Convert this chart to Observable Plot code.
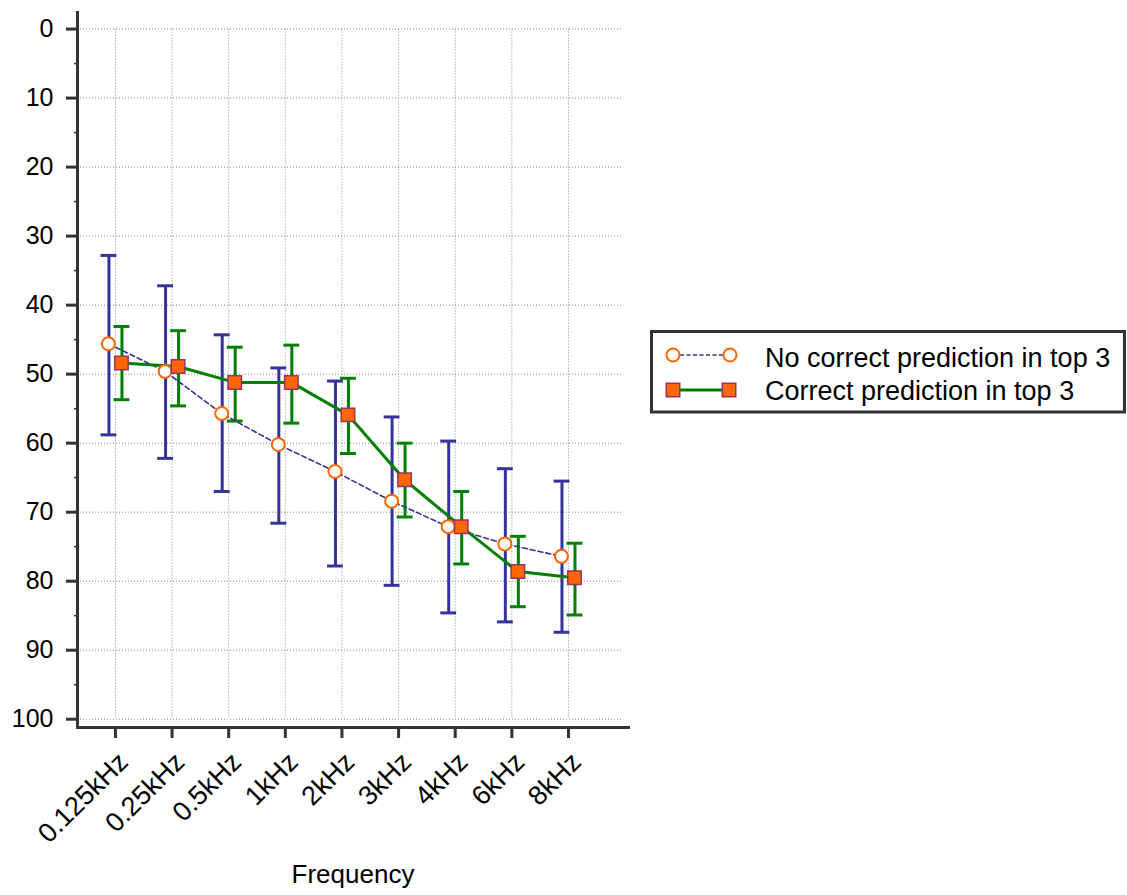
<!DOCTYPE html>
<html>
<head>
<meta charset="utf-8">
<script src="https://cdn.jsdelivr.net/npm/d3@7"></script>
<script src="https://cdn.jsdelivr.net/npm/@observablehq/plot@0.6"></script>
<style>
  html, body { margin: 0; padding: 0; background: #fff; }
  #wrap { position: relative; width: 1127px; height: 895px; font-family: "Liberation Sans", Arial, Helvetica, sans-serif; }
  #legend { position: absolute; left: 0; top: 0; }
</style>
</head>
<body>
<div id="wrap"></div>
<script>
// ---- data ----
const freqLabels = ["0.125kHz", "0.25kHz", "0.5kHz", "1kHz", "2kHz", "3kHz", "4kHz", "6kHz", "8kHz"];
// "No correct prediction in top 3"
const noMean = [45.6, 49.6, 55.7, 60.2, 64.1, 68.4, 72.1, 74.6, 76.4];
const noLow  = [32.8, 37.2, 44.3, 49.1, 51.0, 56.2, 59.7, 63.7, 65.5];
const noHigh = [58.8, 62.2, 67.0, 71.6, 77.8, 80.6, 84.6, 85.9, 87.4];
// "Correct prediction in top 3"
const yesMean = [48.4, 48.9, 51.2, 51.2, 55.9, 65.3, 72.1, 78.6, 79.5];
const yesLow  = [43.1, 43.7, 46.1, 45.8, 50.6, 60.0, 67.0, 73.5, 74.5];
const yesHigh = [53.7, 54.6, 56.8, 57.1, 61.5, 70.7, 77.5, 83.7, 84.9];
const yTicks = [0, 10, 20, 30, 40, 50, 60, 70, 80, 90, 100];
const yMinorTicks = [5, 15, 25, 35, 45, 55, 65, 75, 85, 95];
const seriesNames = ["No correct prediction in top 3", "Correct prediction in top 3"];
const xTitle = "Frequency";

const noData = freqLabels.map((f, i) => ({i, f, mean: noMean[i], lo: noLow[i], hi: noHigh[i]}));
const yesData = freqLabels.map((f, i) => ({i, f, mean: yesMean[i], lo: yesLow[i], hi: yesHigh[i]}));
const idx = freqLabels.map((f, i) => i);

const BLUE = "#333399", GREEN = "#008000", ORANGE = "#ff6600", PURPLE = "#993366", AXIS = "#333";
const FONT = "Liberation Sans, Arial, Helvetica, sans-serif";
const capHalf = 0.14;
const xDomain = [-0.67, 9.06];
const gridRight = 8.95;

const chart = Plot.plot({
  width: 1127,
  height: 895,
  marginLeft: 77,
  marginRight: 499,
  marginTop: 12,
  marginBottom: 168,
  style: {fontFamily: FONT, background: "white", color: "black"},
  x: {type: "linear", domain: xDomain},
  y: {domain: [-2.4, 101.2], reverse: true},
  marks: [
    // grid
    Plot.ruleY(yTicks, {y: d => d, x1: xDomain[0], x2: gridRight, stroke: "#888", strokeWidth: 1, strokeDasharray: "1,2"}),
    Plot.ruleX(idx, {x: d => d, y1: 0, y2: 100, stroke: "#888", strokeWidth: 1, strokeDasharray: "1,2"}),
    // axes
    Plot.axisY({ticks: yTicks, tickSize: 11, tickPadding: 13, fontSize: 25, stroke: AXIS, strokeWidth: 3, fill: "black", label: null}),
    Plot.axisY({ticks: yMinorTicks, tickSize: 3, tickFormat: () => "", stroke: AXIS, strokeWidth: 1.5, label: null}),
    Plot.axisX({ticks: idx, tickFormat: () => "", tickSize: 11, stroke: AXIS, strokeWidth: 3, label: null}),
    Plot.text(idx, {x: d => d, frameAnchor: "bottom", lineAnchor: "middle", text: d => freqLabels[d], rotate: -45, textAnchor: "end",
                    dx: 8, dy: 30, fontSize: 27, fill: "black"}),
    Plot.frame({anchor: "left", stroke: AXIS, strokeWidth: 3}),
    Plot.frame({anchor: "bottom", stroke: AXIS, strokeWidth: 3}),
    Plot.text([xTitle], {frameAnchor: "bottom", lineAnchor: "middle", dy: 147, fontSize: 26, fill: "black"}),
    // error bars: no correct
    Plot.ruleX(noData, {x: "i", y1: "lo", y2: "hi", dx: -6.5, stroke: BLUE, strokeWidth: 3}),
    Plot.ruleY(noData, {y: "lo", x1: d => d.i - capHalf, x2: d => d.i + capHalf, dx: -6.5, stroke: BLUE, strokeWidth: 3}),
    Plot.ruleY(noData, {y: "hi", x1: d => d.i - capHalf, x2: d => d.i + capHalf, dx: -6.5, stroke: BLUE, strokeWidth: 3}),
    // error bars: correct
    Plot.ruleX(yesData, {x: "i", y1: "lo", y2: "hi", dx: 6.5, stroke: GREEN, strokeWidth: 3}),
    Plot.ruleY(yesData, {y: "lo", x1: d => d.i - capHalf, x2: d => d.i + capHalf, dx: 6.5, stroke: GREEN, strokeWidth: 3}),
    Plot.ruleY(yesData, {y: "hi", x1: d => d.i - capHalf, x2: d => d.i + capHalf, dx: 6.5, stroke: GREEN, strokeWidth: 3}),
    // lines
    Plot.line(noData, {x: "i", y: "mean", dx: -7, stroke: BLUE, strokeWidth: 1.6, strokeDasharray: "5,3"}),
    Plot.line(yesData, {x: "i", y: "mean", dx: 6, stroke: GREEN, strokeWidth: 3}),
    // points
    Plot.dot(noData, {x: "i", y: "mean", dx: -7, r: 6.5, fill: "white", stroke: ORANGE, strokeWidth: 2}),
    Plot.dot(yesData, {x: "i", y: "mean", dx: 6, r: 7.6, symbol: "square", fill: ORANGE, stroke: PURPLE, strokeWidth: 1.5})
  ]
});

const wrap = document.getElementById("wrap");
wrap.appendChild(chart);

// legend
const lg = d3.select(wrap).append("svg")
  .attr("id", "legend")
  .attr("width", 1127).attr("height", 895)
  .style("pointer-events", "none");
lg.append("rect").attr("x", 651.5).attr("y", 331.5).attr("width", 473).attr("height", 80.5)
  .attr("fill", "white").attr("stroke", AXIS).attr("stroke-width", 3);
// row 1
lg.append("line").attr("x1", 680).attr("x2", 723).attr("y1", 355).attr("y2", 355)
  .attr("stroke", BLUE).attr("stroke-width", 1.5).attr("stroke-dasharray", "4,2.5");
[673, 730].forEach(cx => lg.append("circle").attr("cx", cx).attr("cy", 355).attr("r", 6.5)
  .attr("fill", "white").attr("stroke", ORANGE).attr("stroke-width", 2));
lg.append("text").attr("x", 765).attr("y", 366.5).attr("font-size", 27).attr("font-family", FONT)
  .attr("fill", "black").text(seriesNames[0]);
// row 2
lg.append("line").attr("x1", 673).attr("x2", 729).attr("y1", 390).attr("y2", 390)
  .attr("stroke", GREEN).attr("stroke-width", 3);
[673, 729].forEach(cx => lg.append("rect").attr("x", cx - 6.75).attr("y", 390 - 6.75).attr("width", 13.5).attr("height", 13.5)
  .attr("fill", ORANGE).attr("stroke", PURPLE).attr("stroke-width", 1.5));
lg.append("text").attr("x", 765).attr("y", 400).attr("font-size", 27).attr("font-family", FONT)
  .attr("fill", "black").text(seriesNames[1]);
</script>
</body>
</html>
